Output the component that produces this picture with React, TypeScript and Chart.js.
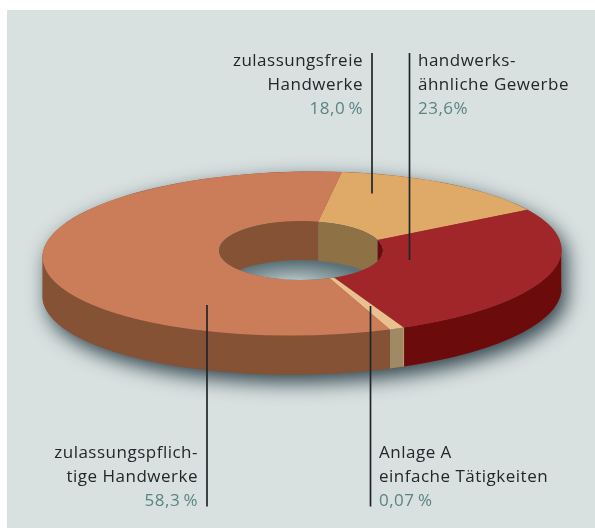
import React, { useEffect, useRef } from "react";
import { Chart, registerables } from "chart.js";

Chart.register(...registerables);

// Slices in drawing order, clockwise from the top boundary
const categories = ["zulassungsfreie Handwerke", "handwerksähnliche Gewerbe", "Anlage A einfache Tätigkeiten", "zulassungspflichtige Handwerke"];
// Shares as the slices are actually drawn in the picture
const drawnShares = [14.3, 26.85, 0.9, 57.95];
const topColors = ["#dfa968", "#a1262a", "#e9c08f", "#cb7c58"];
const outerWallColors = ["#8f7146", "#6c0b0c", "#a08a66", "#855236"];
const innerWallColors = ["#8f7146", "#6c0b0c", "#a08a66", "#855236"];

const labelLeft = ["zulassungsfreie", "Handwerke"];
const valueFree = "18,0\u2009%";
const labelSimilar = ["handwerks-", "ähnliche Gewerbe"];
const valueSimilar = "23,6%";
const labelRequired = ["zulassungspflich-", "tige Handwerke"];
const valueRequired = "58,3\u2009%";
const labelAnnex = ["Anlage A", "einfache Tätigkeiten"];
const valueAnnex = "0,07\u2009%";

const ROTATION_DEG = 9.1;
const TILT = (-0.9 * Math.PI) / 180;
const OUT = { x: 302, y: 253.5, rx: 259.5, ry: 82 };
const HOLE = { x: 301, y: 250.5, rx: 82, ry: 29.5 };
const DEPTH = 39;
const HOLE_DEPTH = 39;
const FONT = '500 17px "Open Sans"';
const SPACING = "0.5px";

// Where the straight slice edge from the disc centre meets the hole's rim
function innerAngle(t: number) {
  const dx = (OUT.rx * Math.cos(t)) / HOLE.rx;
  const dy = (OUT.ry * Math.sin(t)) / HOLE.ry;
  const ox = (OUT.x - HOLE.x) / HOLE.rx;
  const oy = (OUT.y - HOLE.y) / HOLE.ry;
  const A = dx * dx + dy * dy;
  const B = 2 * (ox * dx + oy * dy);
  const C = ox * ox + oy * oy - 1;
  const s = (-B + Math.sqrt(B * B - 4 * A * C)) / (2 * A);
  const a = Math.atan2(oy + s * dy, ox + s * dx);
  let d = a - t;
  while (d > Math.PI) d -= 2 * Math.PI;
  while (d < -Math.PI) d += 2 * Math.PI;
  return t + d;
}

function overlaps(a0: number, a1: number, from: number, to: number) {
  const res: [number, number][] = [];
  for (let k = -2; k <= 2; k++) {
    const s = Math.max(a0, from + k * 2 * Math.PI);
    const e = Math.min(a1, to + k * 2 * Math.PI);
    if (e > s) res.push([s, e]);
  }
  return res;
}

const disc3d = {
  id: "disc3d",
  beforeDraw(chart: any) {
    const { ctx, width, height } = chart;
    ctx.save();
    ctx.fillStyle = "#ffffff";
    ctx.fillRect(0, 0, width, height);
    ctx.fillStyle = "#d9e1e0";
    ctx.fillRect(7, 10, width - 7, height - 10);
    ctx.restore();
  },
  beforeDatasetsDraw(chart: any) {
    const { ctx } = chart;
    const arcs = chart.getDatasetMeta(0).data;
    ctx.save();

    // Soft shadow of the whole solid
    ctx.save();
    ctx.shadowColor = "rgba(30,50,60,0.9)";
    ctx.shadowBlur = 20;
    ctx.shadowOffsetX = 5;
    ctx.shadowOffsetY = 8;
    ctx.fillStyle = "#855236";
    ctx.beginPath();
    ctx.ellipse(OUT.x, OUT.y, OUT.rx, OUT.ry, TILT, Math.PI, 2 * Math.PI);
    ctx.ellipse(OUT.x, OUT.y + DEPTH, OUT.rx, OUT.ry, TILT, 0, Math.PI);
    ctx.closePath();
    ctx.fill();
    ctx.restore();

    // Outer wall
    arcs.forEach((arc: any, i: number) => {
      const { startAngle, endAngle } = arc.getProps(["startAngle", "endAngle"], true);
      ctx.fillStyle = outerWallColors[i];
      for (const [s, e] of overlaps(startAngle, endAngle, -0.05, Math.PI + 0.05)) {
        ctx.beginPath();
        ctx.ellipse(OUT.x, OUT.y, OUT.rx, OUT.ry, TILT, s, e);
        ctx.ellipse(OUT.x, OUT.y + DEPTH, OUT.rx, OUT.ry, TILT, e, s, true);
        ctx.closePath();
        ctx.fill();
      }
    });

    // Top face
    arcs.forEach((arc: any, i: number) => {
      const { startAngle, endAngle } = arc.getProps(["startAngle", "endAngle"], true);
      ctx.fillStyle = arc.options.backgroundColor;
      ctx.beginPath();
      ctx.ellipse(OUT.x, OUT.y, OUT.rx, OUT.ry, TILT, startAngle, endAngle);
      ctx.ellipse(HOLE.x, HOLE.y, HOLE.rx, HOLE.ry, 0, innerAngle(endAngle), innerAngle(startAngle), true);
      ctx.closePath();
      ctx.fill();
    });

    // Hole: see-through floor, then inner wall
    ctx.save();
    ctx.beginPath();
    ctx.ellipse(HOLE.x, HOLE.y, HOLE.rx, HOLE.ry, 0, 0, 2 * Math.PI);
    ctx.clip();
    ctx.save();
    ctx.translate(HOLE.x - 6, 283);
    ctx.scale(1, 0.3);
    const g = ctx.createRadialGradient(0, 0, 0, 0, 0, 72);
    g.addColorStop(0, "#c0cfd1");
    g.addColorStop(1, "#5c7278");
    ctx.fillStyle = g;
    ctx.fillRect(-100, -200, 200, 400);
    ctx.restore();
    arcs.forEach((arc: any, i: number) => {
      const { startAngle, endAngle } = arc.getProps(["startAngle", "endAngle"], true);
      ctx.fillStyle = innerWallColors[i];
      for (const [s, e] of overlaps(startAngle, endAngle, Math.PI, 2 * Math.PI)) {
        const a = innerAngle(s);
        const b = innerAngle(e);
        ctx.beginPath();
        ctx.ellipse(HOLE.x, HOLE.y, HOLE.rx, HOLE.ry, 0, a, b);
        ctx.ellipse(HOLE.x, HOLE.y + HOLE_DEPTH, HOLE.rx, HOLE.ry, 0, b, a, true);
        ctx.closePath();
        ctx.fill();
      }
    });
    ctx.restore();

    // Seam at the small slice
    const seam = arcs[2].getProps(["startAngle"], true).startAngle;
    const sx = OUT.x + OUT.rx * Math.cos(seam) * Math.cos(TILT) - OUT.ry * Math.sin(seam) * Math.sin(TILT);
    const sy = OUT.y + OUT.rx * Math.cos(seam) * Math.sin(TILT) + OUT.ry * Math.sin(seam) * Math.cos(TILT);
    ctx.strokeStyle = "#c79a6c";
    ctx.lineWidth = 1;
    ctx.beginPath();
    ctx.moveTo(sx, sy);
    ctx.lineTo(sx, sy + DEPTH);
    ctx.stroke();

    ctx.restore();
    return false;
  },
  afterDraw(chart: any) {
    const { ctx } = chart;
    ctx.save();
    // Leader lines
    ctx.strokeStyle = "#1f2529";
    ctx.lineWidth = 1.7;
    const leaders: [number, number, number][] = [
      [372, 53, 193.5],
      [409.5, 53, 260],
      [207, 305, 506.5],
      [370.5, 306, 506.5],
    ];
    for (const [x, y0, y1] of leaders) {
      ctx.beginPath();
      ctx.moveTo(x, y0);
      ctx.lineTo(x, y1);
      ctx.stroke();
    }
    // Text
    ctx.font = FONT;
    (ctx as any).letterSpacing = SPACING;
    ctx.textBaseline = "alphabetic";
    const block = (lines: string[], value: string, x: number, y: number, align: CanvasTextAlign) => {
      ctx.textAlign = align;
      ctx.fillStyle = "#24262a";
      lines.forEach((l, i) => ctx.fillText(l, x, y + i * 24));
      ctx.fillStyle = "#5b8382";
      ctx.fillText(value, x, y + lines.length * 24);
    };
    block(labelLeft, valueFree, 363, 66, "right");
    block(labelSimilar, valueSimilar, 418, 66, "left");
    block(labelRequired, valueRequired, 198, 458, "right");
    block(labelAnnex, valueAnnex, 379, 458, "left");
    ctx.restore();
  },
};

export default function App() {
  const ref = useRef<HTMLCanvasElement>(null);
  useEffect(() => {
    document.body.style.margin = "0";
    const chart = new Chart(ref.current!, {
      type: "doughnut",
      data: {
        labels: categories,
        datasets: [{ data: drawnShares, backgroundColor: topColors, borderWidth: 0 }],
      },
      options: {
        animation: false,
        responsive: false,
        rotation: ROTATION_DEG,
        cutout: "32%",
        plugins: { legend: { display: false }, tooltip: { enabled: false } },
      },
      plugins: [disc3d],
    } as any);
    return () => chart.destroy();
  }, []);
  return <canvas ref={ref} width={595} height={528} style={{ display: "block", width: 595, height: 528 }} />;
}
